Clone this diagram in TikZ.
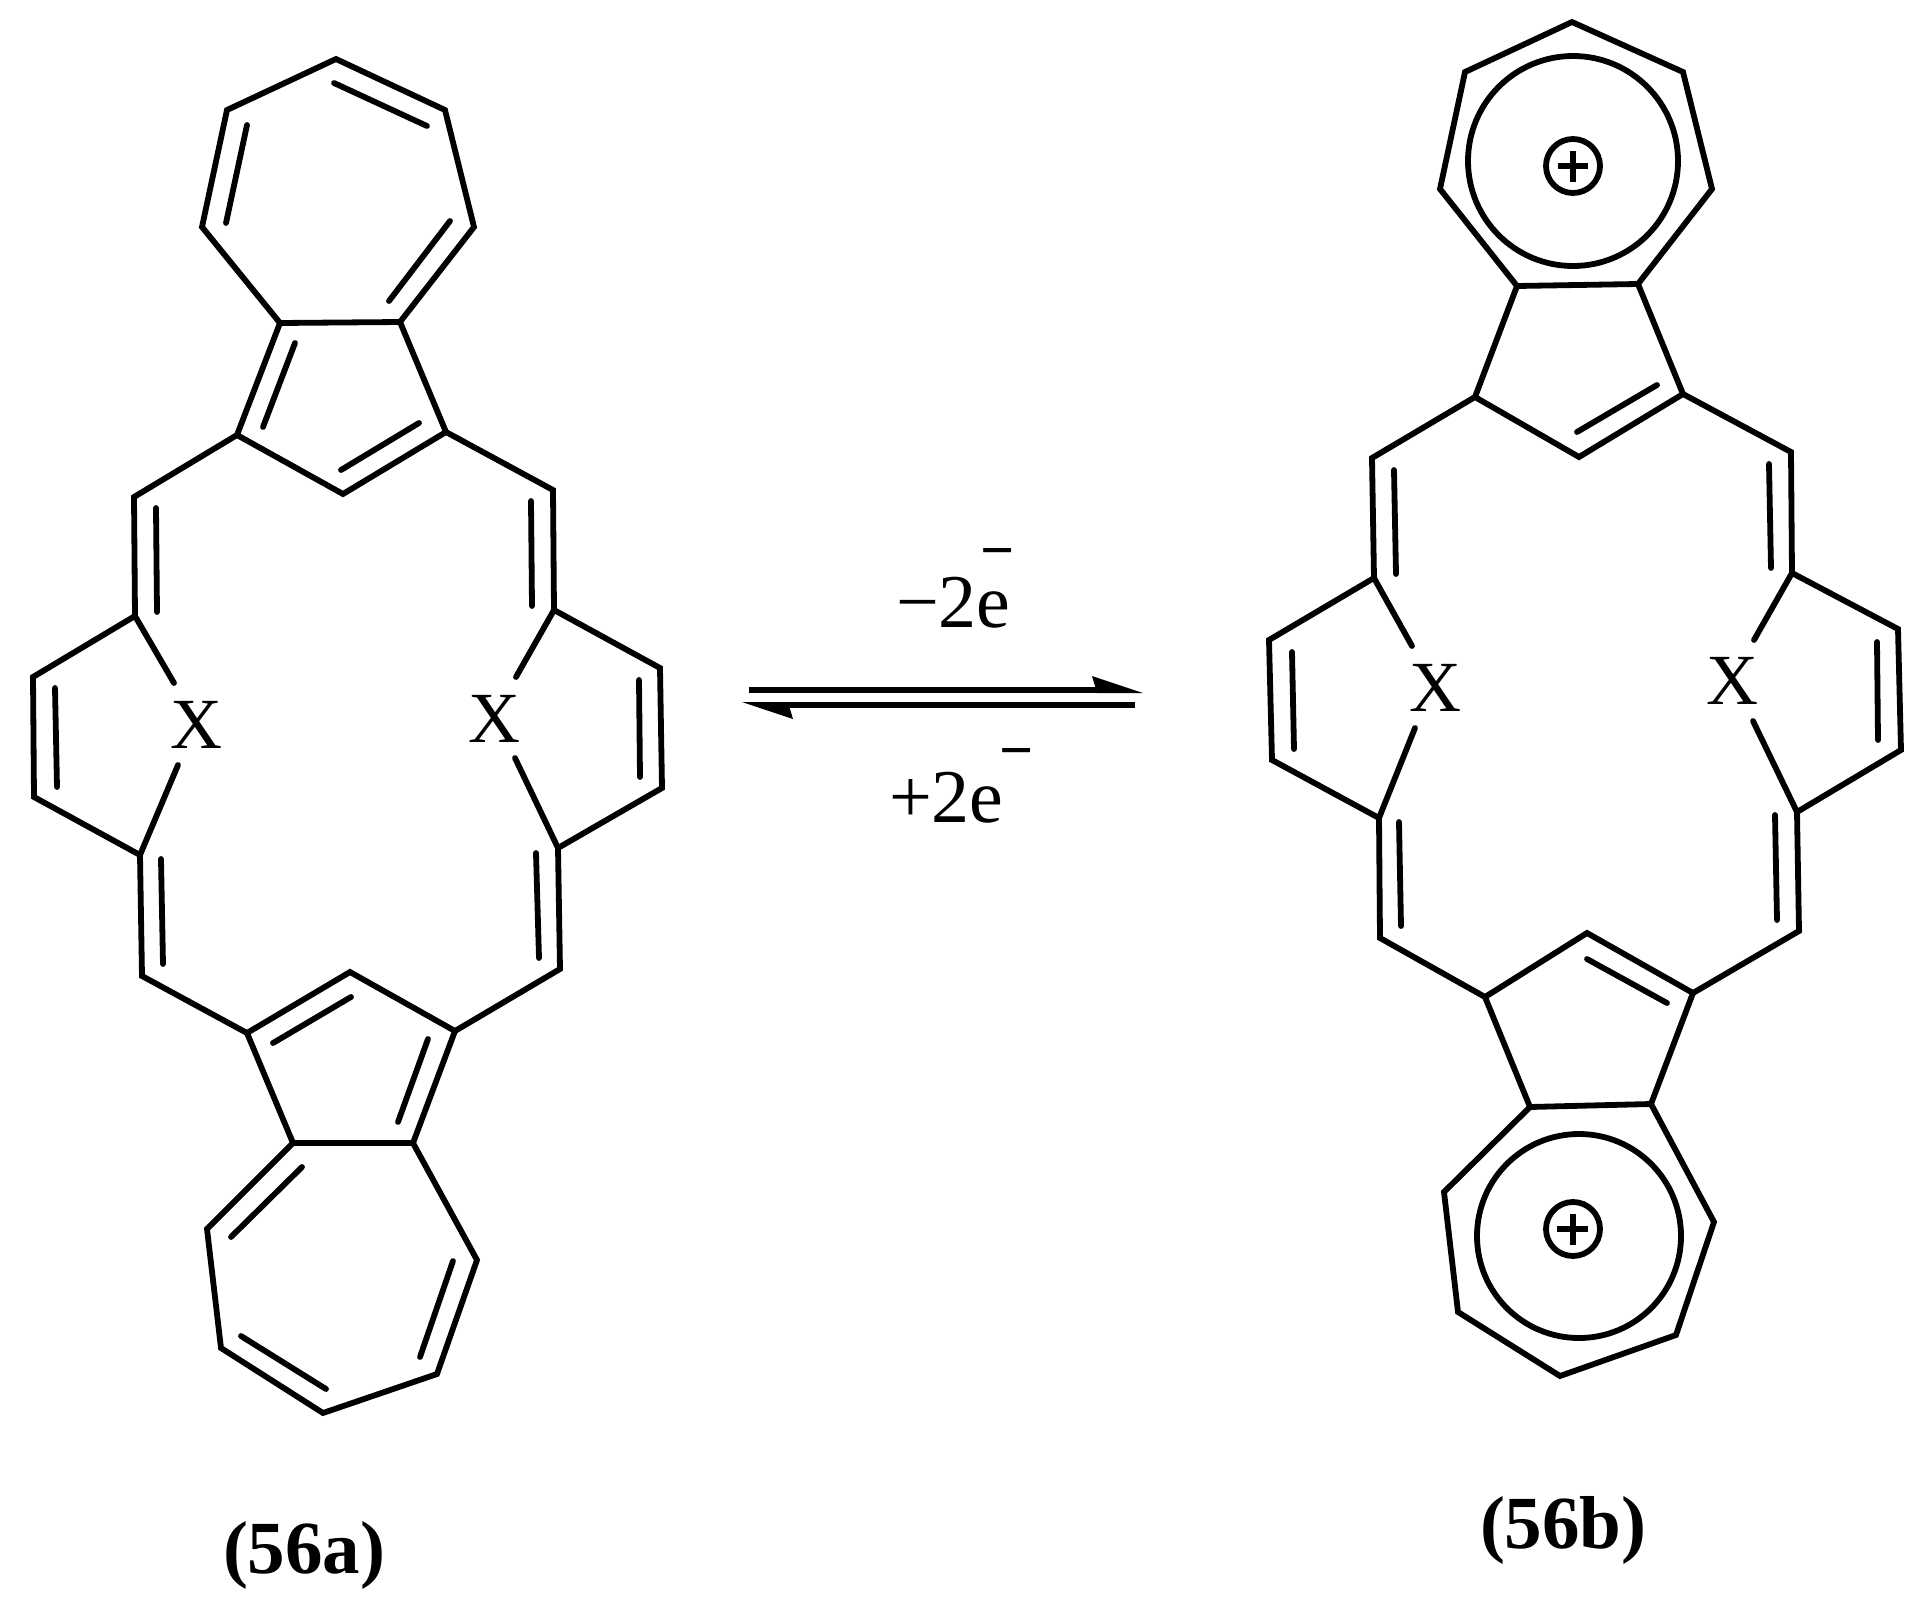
\documentclass[tikz,border=0pt]{standalone}
\usepackage{fontspec}
\setmainfont{Liberation Serif}
\newcommand{\chargebar}[2]{\kern#1\raisebox{#2}{\fontsize{30}{34}\selectfont\bfseries −}}
\tikzset{
  bond/.style={line width=2.9pt,line join=miter,miter limit=10,line cap=butt},
  dbl/.style={line width=2.9pt,line cap=round},
  lab/.style={inner sep=0pt,outer sep=0pt,anchor=base,font=\fontsize{36}{40}\selectfont},
  eq/.style={inner sep=0pt,outer sep=0pt,anchor=base west,font=\fontsize{38}{42}\selectfont},
  name56/.style={inner sep=0pt,outer sep=0pt,anchor=base west,font=\fontsize{37.5}{42}\selectfont\bfseries},
  arrowline/.style={line width=3pt,line cap=butt},
  head/.style={fill=black,draw=none}
}
\begin{document}
\begin{tikzpicture}[x=0.5pt,y=-0.5pt]
\path[use as bounding box] (0,0) rectangle (1929,1606);

% ---------- molecule 56a ----------
\coordinate (a1) at (336,59);  \coordinate (a2) at (445,110); \coordinate (a3) at (474,227);
\coordinate (a4) at (400,322); \coordinate (a5) at (280,323); \coordinate (a6) at (202,227);
\coordinate (a7) at (227,110);
\coordinate (a8) at (237,435); \coordinate (a9) at (343,494); \coordinate (a10) at (446,432);
\coordinate (a11) at (134,497); \coordinate (a12) at (135,616); \coordinate (a13) at (33,677);
\coordinate (a14) at (34,797); \coordinate (a15) at (140,855); \coordinate (a16) at (142,976);
\coordinate (a17) at (553,490); \coordinate (a18) at (554,610); \coordinate (a19) at (660,668);
\coordinate (a20) at (662,788); \coordinate (a21) at (558,848); \coordinate (a22) at (560,969);
\coordinate (a23) at (247,1033); \coordinate (a24) at (350,972); \coordinate (a25) at (455,1031);
\coordinate (a26) at (413,1143); \coordinate (a27) at (293,1143); \coordinate (a28) at (207,1229);
\coordinate (a29) at (221,1348); \coordinate (a30) at (323,1413); \coordinate (a31) at (437,1374);
\coordinate (a32) at (477,1260);
\coordinate (ax1) at (174,683); \coordinate (ax2) at (178,765);
\coordinate (ax3) at (516,677); \coordinate (ax4) at (515,758);

\draw[bond] (a1)--(a2)--(a3)--(a4)--(a5)--(a6)--(a7)--cycle;
\draw[bond] (a5)--(a8)--(a9)--(a10)--(a4);
\draw[bond] (a8)--(a11)--(a12)--(a13)--(a14)--(a15)--(a16)--(a23);
\draw[bond] (a10)--(a17)--(a18)--(a19)--(a20)--(a21)--(a22)--(a25);
\draw[bond] (a23)--(a24)--(a25)--(a26)--(a27)--cycle;
\draw[bond] (a27)--(a28)--(a29)--(a30)--(a31)--(a32)--(a26);
\draw[dbl] (a12)--(ax1); \draw[dbl] (a15)--(ax2);
\draw[dbl] (a18)--(ax3); \draw[dbl] (a21)--(ax4);

\draw[dbl] (334,83)--(427,126);
\draw[dbl] (247,125)--(226,223);
\draw[dbl] (450,221)--(389,301);
\draw[dbl] (295,343)--(263,427);
\draw[dbl] (419,423)--(341,470);
\draw[dbl] (156,508)--(157,612);
\draw[dbl] (531,501)--(532,606);
\draw[dbl] (55,688)--(57,787);
\draw[dbl] (639,680)--(640,777);
\draw[dbl] (161,859)--(163,964);
\draw[dbl] (536,853)--(539,958);
\draw[dbl] (351,997)--(273,1043);
\draw[dbl] (428,1039)--(398,1122);
\draw[dbl] (302,1167)--(231,1237);
\draw[dbl] (241,1336)--(326,1389);
\draw[dbl] (453,1261)--(420,1357);

\node[lab] (xa1) at (196,748) {X};
\node[lab] (xa2) at (494,742) {X};
\node[name56] (la) at (223,1573) {(56a)};

% ---------- molecule 56b ----------
\coordinate (b1) at (1572,22);  \coordinate (b2) at (1683,72); \coordinate (b3) at (1712,189);
\coordinate (b4) at (1638,284); \coordinate (b5) at (1517,286); \coordinate (b6) at (1440,189);
\coordinate (b7) at (1465,72);
\coordinate (b8) at (1475,397); \coordinate (b9) at (1579,457); \coordinate (b10) at (1683,394);
\coordinate (b11) at (1372,458); \coordinate (b12) at (1374,578); \coordinate (b13) at (1269,640);
\coordinate (b14) at (1272,760); \coordinate (b15) at (1379,818); \coordinate (b16) at (1380,938);
\coordinate (b17) at (1791,452); \coordinate (b18) at (1792,573); \coordinate (b19) at (1898,629);
\coordinate (b20) at (1901,750); \coordinate (b21) at (1797,812); \coordinate (b22) at (1799,931);
\coordinate (b23) at (1485,997); \coordinate (b24) at (1587,933); \coordinate (b25) at (1693,993);
\coordinate (b26) at (1651,1104); \coordinate (b27) at (1530,1107); \coordinate (b28) at (1444,1192);
\coordinate (b29) at (1458,1312); \coordinate (b30) at (1560,1376); \coordinate (b31) at (1676,1335);
\coordinate (b32) at (1714,1222);
\coordinate (bx1) at (1412,646); \coordinate (bx2) at (1415,728);
\coordinate (bx3) at (1754,640); \coordinate (bx4) at (1753,721);

\draw[bond] (b1)--(b2)--(b3)--(b4)--(b5)--(b6)--(b7)--cycle;
\draw[bond] (b5)--(b8)--(b9)--(b10)--(b4);
\draw[bond] (b8)--(b11)--(b12)--(b13)--(b14)--(b15)--(b16)--(b23);
\draw[bond] (b10)--(b17)--(b18)--(b19)--(b20)--(b21)--(b22)--(b25);
\draw[bond] (b23)--(b24)--(b25)--(b26)--(b27)--cycle;
\draw[bond] (b27)--(b28)--(b29)--(b30)--(b31)--(b32)--(b26);
\draw[dbl] (b12)--(bx1); \draw[dbl] (b15)--(bx2);
\draw[dbl] (b18)--(bx3); \draw[dbl] (b21)--(bx4);

\draw[dbl] (1577,432)--(1657,385);
\draw[dbl] (1394,470)--(1396,574);
\draw[dbl] (1769,464)--(1771,568);
\draw[dbl] (1292,652)--(1294,749);
\draw[dbl] (1877,642)--(1878,740);
\draw[dbl] (1399,822)--(1401,926);
\draw[dbl] (1775,815)--(1777,920);
\draw[dbl] (1587,959)--(1667,1003);

\draw[bond] (1573,161) circle[radius=105];
\draw[bond] (1573,166) circle[radius=27];
\draw[bond] (1558,166)--(1588,166);
\draw[bond] (1573,151)--(1573,182);
\draw[bond] (1579,1236) circle[radius=102];
\draw[bond] (1573,1229) circle[radius=27];
\draw[bond] (1557,1229)--(1588,1229);
\draw[bond] (1573,1214)--(1573,1245);

\node[lab] (xb1) at (1435,711) {X};
\node[lab] (xb2) at (1732,704.5) {X};
\node[name56] (lb) at (1480,1548) {(56b)};

% ---------- equilibrium arrows ----------
\coordinate (u0) at (749,690); \coordinate (u1) at (1125,690);
\coordinate (l0) at (760,705); \coordinate (l1) at (1135,705);
\draw[arrowline] (u0)--(u1);
\draw[arrowline] (l0)--(l1);
\fill[head] (1092,676)--(1143,693)--(1097,693)--cycle;
\fill[head] (742,702)--(793,719)--(788,702)--cycle;

\node[eq] (m2e) at (896,627) {−2e\chargebar{-15.3pt}{28.5pt}};
\node[eq] (p2e) at (889,822) {+2e\chargebar{-2.3pt}{26pt}};
\end{tikzpicture}
\end{document}
